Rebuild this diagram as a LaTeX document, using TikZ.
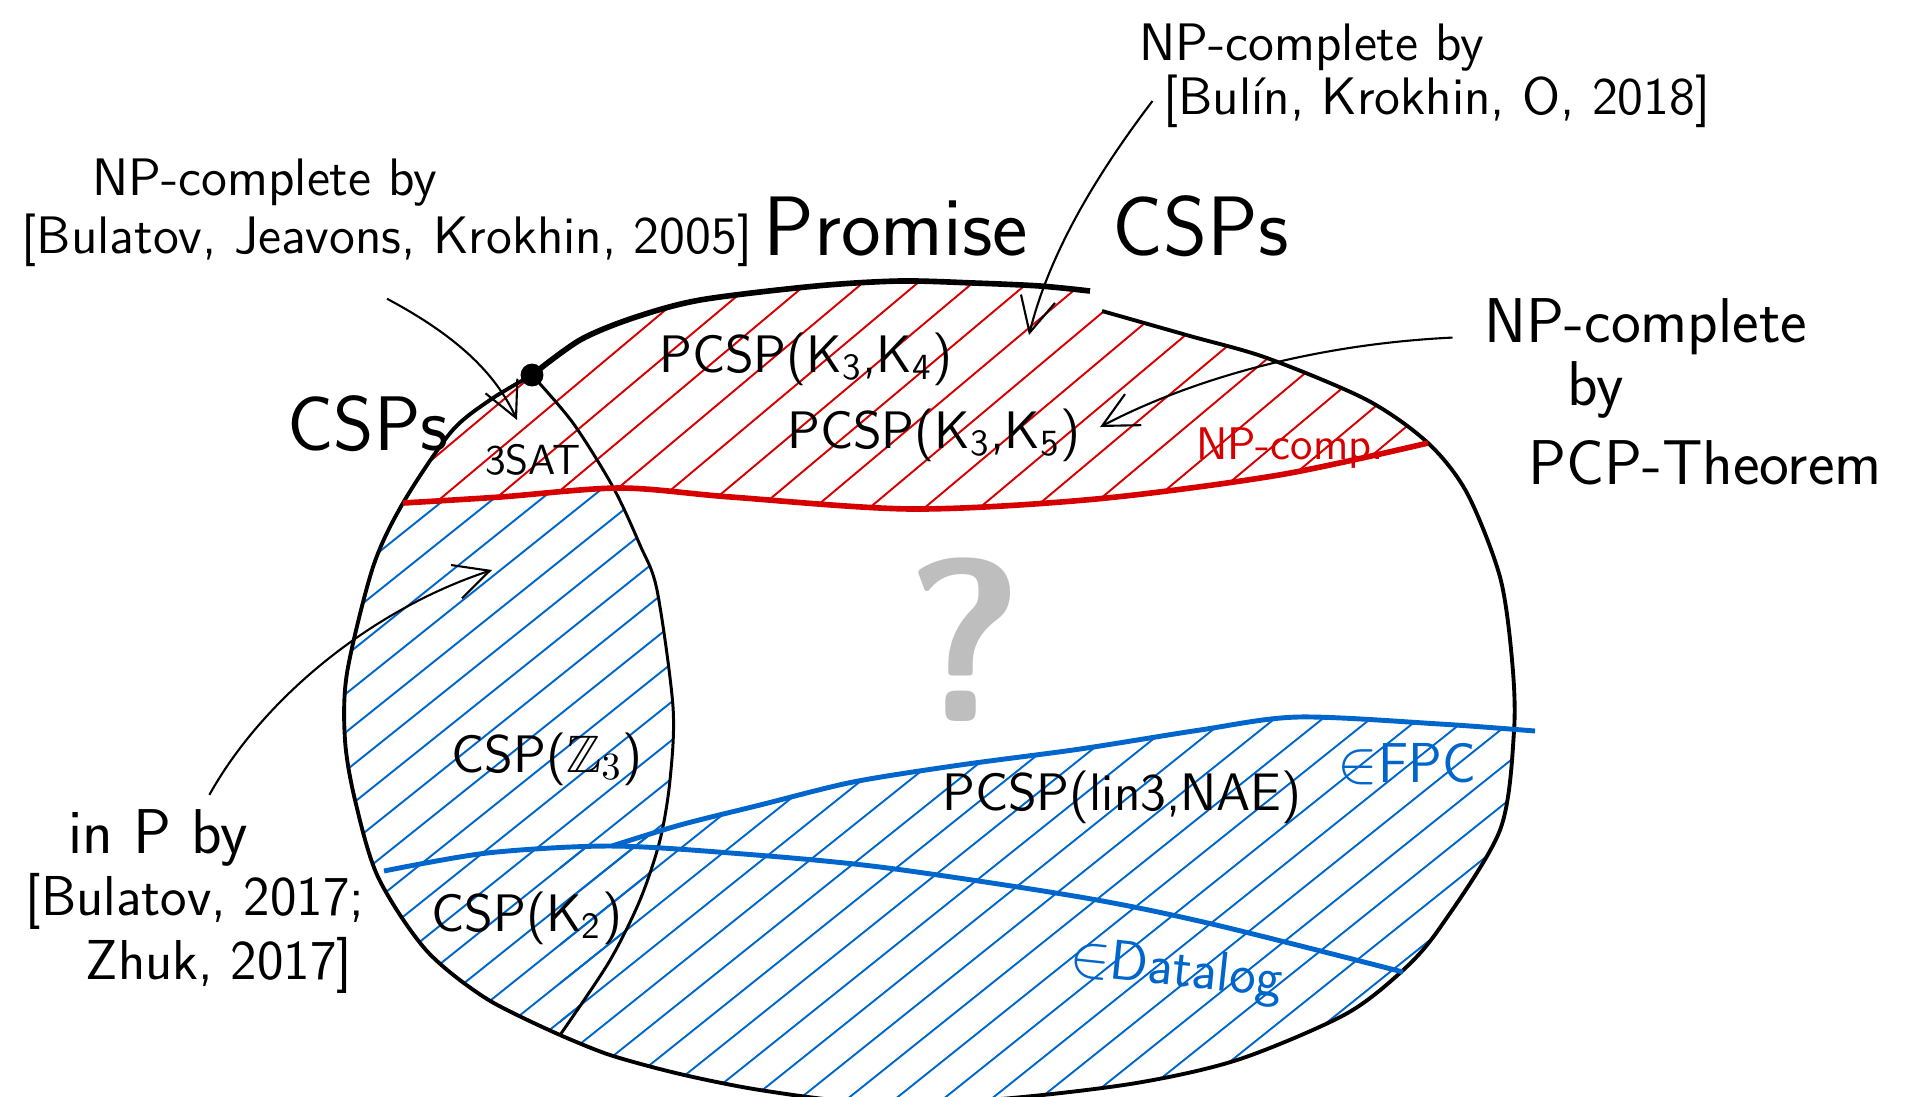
\documentclass[tikz,border=0pt]{standalone}
\usepackage{fontspec}
\usepackage{amssymb}
\usetikzlibrary{arrows.meta}

\definecolor{sketchred}{RGB}{214,0,0}
\definecolor{sketchblue}{RGB}{0,102,204}
\definecolor{sketchgray}{RGB}{190,190,190}

\tikzset{
  rim/.style={line width=1.1pt},
  lensedge/.style={line width=0.85pt},
  redhatch/.style={sketchred, line width=0.55pt},
  bluehatch/.style={sketchblue, line width=0.55pt},
  pointer/.style={line width=0.6pt, -{Straight Barb[length=3.5mm,width=3.5mm]}},
  note/.style={font=\sffamily\fontsize{15}{17}\selectfont, inner sep=1pt},
  bignote/.style={font=\sffamily\fontsize{18}{21}\selectfont, inner sep=1pt},
  heading/.style={font=\sffamily\fontsize{24}{28}\selectfont, inner sep=1pt},
  problem/.style={font=\sffamily\fontsize{15}{17}\selectfont, inner sep=1pt},
  smallproblem/.style={font=\sffamily\fontsize{12}{14}\selectfont, inner sep=1pt},
  classname/.style={font=\sffamily\fontsize{16}{18}\selectfont, inner sep=1pt, sketchblue},
}

% outlines of the regions (pixel grid, y going down), each one continues a path
\def\toparc{-- plot[smooth] coordinates {(532,375) (580,340) (633,318) (700,300) (816,286) (900,281) (974,283) (1040,286) (1090,291)}}
\def\rightarc{-- plot[smooth] coordinates {(1102,311) (1190,336) (1267,358) (1367,400) (1428,443) (1467,493) (1500,577) (1512,660) (1514,731) (1500,830) (1439,929) (1401,972) (1344,1015) (1237,1060) (1130,1084) (987,1100) (860,1102) (760,1090) (680,1074) (610,1055) (560,1035)}}
\def\lensleft{-- plot[smooth] coordinates {(560,1035) (487,999) (426,950) (378,877) (355,800) (345,740) (347,673) (373,567) (403,503) (451,432) (490,400) (532,375)}}
\def\lensright{-- plot[smooth] coordinates {(532,375) (573,423) (613,487) (640,545) (657,590) (673,707) (670,780) (660,840) (640,900) (609,962) (560,1035)}}
\def\redline{-- plot[smooth] coordinates {(403,503) (500,497) (620,488) (731,497) (913,509) (1096,499) (1279,475) (1428,443)}}
\def\fpcline{-- plot[smooth] coordinates {(612,846) (680,825) (760,805) (853,782) (960,765) (1080,749) (1200,730) (1298,717) (1440,724) (1535,731)}}
\def\datalogline{-- plot[smooth] coordinates {(384,871) (487,853) (609,846) (731,853) (880,867) (1080,897) (1212,924) (1403,972)}}

\begin{document}
\begin{tikzpicture}[x=0.01cm, y=-0.01cm]
    \useasboundingbox (0,0) rectangle (1910,1096);

    % Hatching
    \begin{scope}
        \clip (532,375) \toparc \rightarc \lensleft -- cycle;
        \begin{scope} % NP-hard part
            \clip (300,0) -- (300,503) \redline -- (1600,443) -- (1600,0) -- cycle;
            \foreach \x in {250,305,...,1500}
                \draw[redhatch] (\x,520) -- ++(620,-520);
        \end{scope}
        \begin{scope} % CSPs in P
            \clip (532,375) \lensright \lensleft -- cycle;
            \clip (300,1150) -- (300,503) \redline -- (1600,443) -- (1600,1150) -- cycle;
            \foreach \x in {-450,-402,...,1500}
                \draw[bluehatch] (\x,1100) -- ++(1000,-800);
        \end{scope}
        \begin{scope} % tractable PCSPs
            \clip (560,1150) -- (560,846) \fpcline -- (1600,731) -- (1600,1150) -- cycle;
            \foreach \x in {-450,-402,...,1500}
                \draw[bluehatch] (\x,1100) -- ++(1000,-800);
        \end{scope}
    \end{scope}

    % Regions
    \draw[rim, line width=1.6pt] (532,375) \toparc;
    \draw[rim] (1102,311) \rightarc;
    \draw[rim] (560,1035) \lensleft;
    \draw[lensedge] (532,375) \lensright;
    \draw[sketchred, line width=1.6pt] (403,503) \redline;
    \draw[sketchblue, line width=1.4pt] (612,846) \fpcline;
    \draw[sketchblue, line width=1.4pt] (384,871) \datalogline;
    \node[circle, fill, inner sep=2.3pt] (apex) at (532,375) {};

    % Nodes
    \node[heading] (pcsps) at (1026,226) {Promise\quad CSPs};
    \node[heading, font=\sffamily\fontsize{22}{26}\selectfont] (csps) at (368,424) {CSPs};
    \node[note] (bjktop) at (265,183) {NP-complete by};
    \node[note] (bjk) at (387,240) {[Bulatov, Jeavons, Krokhin, 2005]};
    \node[note] (bkotop) at (1312,48) {NP-complete by};
    \node[note] (bko) at (1437,101) {[Bulín, Krokhin, O, 2018]};
    \node[bignote] (pcptop) at (1646,327) {NP-complete};
    \node[bignote] (pcpby) at (1596,390) {by};
    \node[bignote] (pcp) at (1705,463) {PCP-Theorem};
    \node[bignote] (inptop) at (158,838) {in P by};
    \node[note, font=\sffamily\fontsize{16}{18}\selectfont] (bulatov) at (195,901) {[Bulatov, 2017;};
    \node[note, font=\sffamily\fontsize{16}{18}\selectfont] (zhuk) at (219,965) {Zhuk, 2017]};

    \node[problem] (k4) at (806,359) {PCSP(K\textsubscript{3},K\textsubscript{4})};
    \node[problem] (k5) at (934,435) {PCSP(K\textsubscript{3},K\textsubscript{5})};
    \node[smallproblem] (sat) at (533,460) {3SAT};
    \node[smallproblem, font=\sffamily\fontsize{13}{15}\selectfont, sketchred] (npc) at (1290,448) {NP-comp.};
    \node[sketchgray, inner sep=0pt, font=\sffamily\bfseries\fontsize{66}{70}\selectfont] (unknown) at (965,640) {?};
    \node[problem] (z3) at (547,759) {CSP($\mathbb{Z}_3$)};
    \node[problem] (k2) at (527,918) {CSP(K\textsubscript{2})};
    \node[problem] (lin) at (1122,797) {PCSP(lin3,NAE)};
    \node[classname] (fpc) at (1407,764) {$\in$FPC};
    \node[classname, rotate=-6] (datalog) at (1176,972) {$\in$Datalog};

    \coordinate (tipsat) at (517,420);
    \coordinate (tipk4) at (1029,335);
    \coordinate (tipk5) at (1100,427);
    \coordinate (tipz) at (492,570);

    % Edges
    \draw[pointer] ([yshift=-8pt]bjk.south) .. controls (455,335) and (495,372) .. (tipsat);
    \draw[pointer] ([xshift=-2pt]bko.west) .. controls (1100,170) and (1050,250) .. (tipk4);
    \draw[pointer] ([xshift=-8pt,yshift=-3pt]pcptop.west) .. controls (1300,345) and (1180,385) .. (tipk5);
    \draw[pointer] ([xshift=-12pt,yshift=3pt]inptop.north east) .. controls (262,700) and (370,610) .. (tipz);
\end{tikzpicture}
\end{document}
